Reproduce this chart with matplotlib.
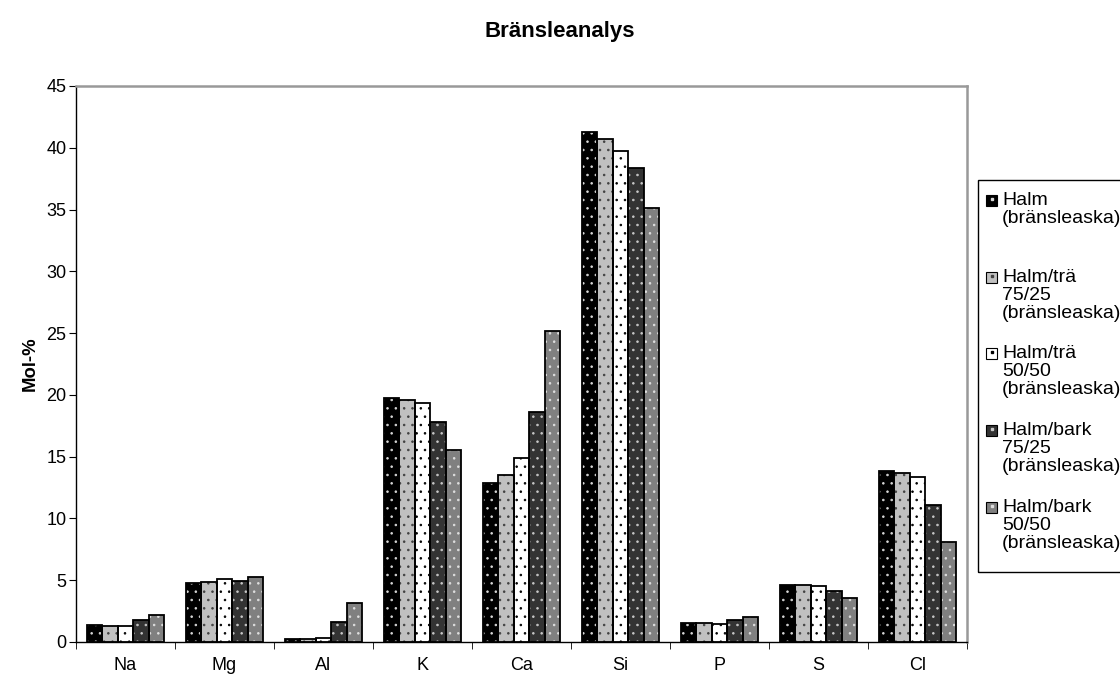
import matplotlib
matplotlib.use("Agg")
import matplotlib.pyplot as plt
import numpy as np
from matplotlib.patches import Rectangle
from matplotlib.lines import Line2D

plt.rcParams['font.family'] = ['Liberation Sans', 'DejaVu Sans']
plt.rcParams['hatch.linewidth'] = 0.6

elements = ['Na', 'Mg', 'Al', 'K', 'Ca', 'Si', 'P', 'S', 'Cl']

halm = [1.35, 4.78, 0.25, 19.77, 12.83, 41.24, 1.50, 4.60, 13.80]
halm_tra_75 = [1.33, 4.87, 0.28, 19.59, 13.51, 40.72, 1.50, 4.58, 13.65]
halm_tra_50 = [1.26, 5.09, 0.33, 19.37, 14.87, 39.70, 1.45, 4.55, 13.35]
halm_bark_75 = [1.76, 4.97, 1.60, 17.77, 18.63, 38.37, 1.76, 4.10, 11.10]
halm_bark_50 = [2.16, 5.27, 3.12, 15.55, 25.17, 35.10, 2.00, 3.55, 8.10]

series = [halm, halm_tra_75, halm_tra_50, halm_bark_75, halm_bark_50]
labels = ['Halm\n(bränsleaska)\n',
          'Halm/trä\n75/25\n(bränsleaska)',
          'Halm/trä\n50/50\n(bränsleaska)',
          'Halm/bark\n75/25\n(bränsleaska)',
          'Halm/bark\n50/50\n(bränsleaska)']
fills = ['#000000', '#c0c0c0', '#ffffff', '#333333', '#808080']
dots = ['#d8d8d8', '#404040', '#000000', '#c8c8c8', '#e0e0e0']

W, H = 1120, 675
fig = plt.figure(figsize=(W / 100, H / 100), dpi=100)
ax = fig.add_axes([76 / W, 1 - 642 / H, (967 - 76) / W, (642 - 86) / H])

x = np.arange(len(elements))
bw = 0.156
for i, vals in enumerate(series):
    pos = x + (i - 2) * bw
    # dotted fill first, then the black outline on top
    ax.bar(pos, vals, bw, color=fills[i], edgecolor=dots[i], hatch='..',
           linewidth=0, zorder=2)
    ax.bar(pos, vals, bw, fill=False, edgecolor='black', linewidth=1.3, zorder=3)

ax.set_xlim(-0.5, len(elements) - 0.5)
ax.set_ylim(0, 45)
ax.set_yticks(np.arange(0, 46, 5))
ax.set_xticks(x)
ax.set_xticklabels(elements)
ax.set_xticks(np.arange(-0.5, len(elements), 1), minor=True)
ax.tick_params(axis='x', which='major', length=0, pad=11, labelsize=13)
ax.tick_params(axis='x', which='minor', length=5, direction='out')
ax.tick_params(axis='y', length=5, direction='out', labelsize=13, pad=2)
for s in ['top', 'right']:
    ax.spines[s].set_color('#999999')
    ax.spines[s].set_linewidth(1.8)
for s in ['left', 'bottom']:
    ax.spines[s].set_color('black')
    ax.spines[s].set_linewidth(1.0)

ax.set_ylabel('Mol-%', fontsize=13.3, fontweight='bold', labelpad=5)
fig.text(0.5, 1 - 31 / H, 'Bränsleanalys', ha='center', va='center',
         fontsize=16, fontweight='bold')

# hand-built legend so each marker sits on the first text line
def fx(px):
    return px / W

def fy(py):
    return 1 - py / H

box_top, box_bot = 180, 572
fig.patches.append(Rectangle((fx(978), fy(box_bot)), fx(200), (box_bot - box_top) / H,
                             transform=fig.transFigure, fill=False,
                             edgecolor='black', linewidth=1.0))
entry_y = [200, 277, 353, 430, 507]
for i, lab in enumerate(labels):
    yy = entry_y[i]
    fig.patches.append(Rectangle((fx(986), fy(yy + 5.5)), fx(11), 11 / H,
                                 transform=fig.transFigure, facecolor=fills[i],
                                 edgecolor='black', linewidth=0.8))
    fig.lines.append(Line2D([fx(991.5)], [fy(yy - 1)], transform=fig.transFigure,
                            marker='s', markersize=1.6, color=dots[i],
                            linestyle='none'))
    fig.text(fx(1002), fy(yy - 8), lab, ha='left', va='top', fontsize=14,
             linespacing=1.08)

fig.savefig('out.png', dpi=100)
